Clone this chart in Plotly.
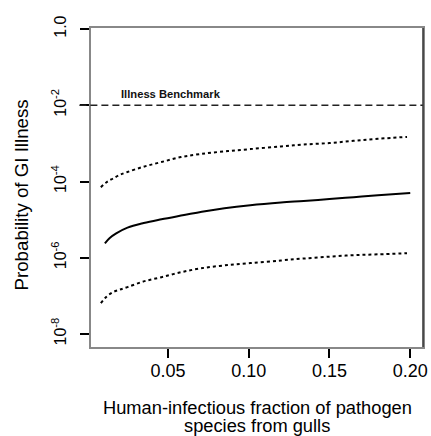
import plotly.graph_objects as go

# Human-infectious fraction of pathogen species from gulls
x_mean = [0.011, 0.014, 0.018, 0.025, 0.035, 0.046, 0.060, 0.071, 0.085,
          0.101, 0.120, 0.134, 0.150, 0.165, 0.180, 0.200]
p_mean = [2.40e-6, 3.31e-6, 4.37e-6, 6.17e-6, 8.13e-6, 1.02e-5, 1.32e-5, 1.62e-5,
          2.00e-5, 2.40e-5, 2.82e-5, 3.09e-5, 3.47e-5, 3.89e-5, 4.37e-5, 5.01e-5]

x_bounds = [0.0085, 0.012, 0.016, 0.020, 0.025, 0.035, 0.046, 0.058, 0.070,
            0.085, 0.101, 0.120, 0.134, 0.150, 0.165, 0.180, 0.198]
p_upper = [7.08e-5, 9.55e-5, 1.20e-4, 1.48e-4, 1.78e-4, 2.45e-4, 3.24e-4, 4.37e-4,
           5.25e-4, 6.17e-4, 7.08e-4, 8.32e-4, 9.33e-4, 1.02e-3, 1.17e-3, 1.32e-3, 1.48e-3]
p_lower = [6.46e-8, 9.55e-8, 1.26e-7, 1.45e-7, 1.70e-7, 2.40e-7, 3.09e-7, 4.17e-7,
           5.25e-7, 6.31e-7, 7.24e-7, 8.51e-7, 9.55e-7, 1.07e-6, 1.17e-6, 1.23e-6, 1.32e-6]

benchmark = 1e-2
benchmark_label = "Illness Benchmark"

x_title_lines = ["Human-infectious fraction of pathogen", "species from gulls"]
y_title = "Probability of GI Illness"

x_ticks = [0.05, 0.10, 0.15, 0.20]
x_ticktext = ["0.05", "0.10", "0.15", "0.20"]
y_ticks = [1e-8, 1e-6, 1e-4, 1e-2, 1.0]
y_ticktext = ["10<sup>-8</sup>", "10<sup>-6</sup>", "10<sup>-4</sup>", "10<sup>-2</sup>", "1.0"]

FONT = "Liberation Sans, Arial, sans-serif"

fig = go.Figure()
fig.add_trace(go.Scatter(x=x_bounds, y=p_upper, mode="lines", line_shape="spline",
                         line=dict(color="black", width=2, dash="3px,3px"), showlegend=False))
fig.add_trace(go.Scatter(x=x_mean, y=p_mean, mode="lines", line_shape="spline",
                         line=dict(color="black", width=2), showlegend=False))
fig.add_trace(go.Scatter(x=x_bounds, y=p_lower, mode="lines", line_shape="spline",
                         line=dict(color="black", width=2, dash="3px,3px"), showlegend=False))

# benchmark dashed line (extends slightly left of the axis as in the original)
fig.add_shape(type="line", xref="paper", yref="y", x0=-0.035, x1=1.0,
              y0=benchmark, y1=benchmark,
              line=dict(color="#222222", width=1.5, dash="7px,4px"))
# right border darker
fig.add_shape(type="line", xref="paper", yref="paper", x0=1, x1=1, y0=0, y1=1,
              line=dict(color="#333333", width=1.5))

fig.add_annotation(text="<b>" + benchmark_label + "</b>", x=0.020, y=-1.71, xref="x", yref="y",
                   xanchor="left", yanchor="middle", showarrow=False,
                   font=dict(family=FONT, size=11.2, color="#111111"))

for i, line in enumerate(x_title_lines):
    fig.add_annotation(text=line, xref="paper", yref="paper", x=0.5, y=0,
                       yshift=-60 - 18 * i, xanchor="center", yanchor="middle",
                       showarrow=False, font=dict(family=FONT, size=18.3, color="black"))
fig.add_annotation(text=y_title, textangle=-90,
                   xref="paper", yref="paper", x=0, y=0.475, xshift=-70,
                   xanchor="center", yanchor="middle", showarrow=False,
                   font=dict(family=FONT, size=18.7, color="black"))

fig.update_xaxes(range=[0.0024, 0.2079], tickvals=x_ticks, ticktext=x_ticktext,
                 ticks="outside", ticklen=9, tickwidth=2, tickcolor="black",
                 showline=True, linecolor="#888888", linewidth=1.5, mirror=True,
                 showgrid=False, zeroline=False, ticklabelstandoff=-2,
                 tickfont=dict(family=FONT, size=18, color="black"))
fig.update_yaxes(type="log", range=[-8.34, 0.026], tickvals=y_ticks, ticktext=y_ticktext,
                 tickangle=-90, ticks="outside", ticklen=9, tickwidth=2, tickcolor="black",
                 showline=True, linecolor="#888888", linewidth=1.5, mirror=True,
                 showgrid=False, zeroline=False, ticklabelstandoff=8,
                 tickfont=dict(family=FONT, size=16, color="black"))

fig.update_layout(width=431, height=436, autosize=False,
                  margin=dict(l=91, r=3, t=28, b=89),
                  plot_bgcolor="white", paper_bgcolor="white",
                  font=dict(family=FONT, color="black"))

fig.write_html("out.html", config={"displayModeBar": False},
               post_script="document.body.style.margin='0';")
